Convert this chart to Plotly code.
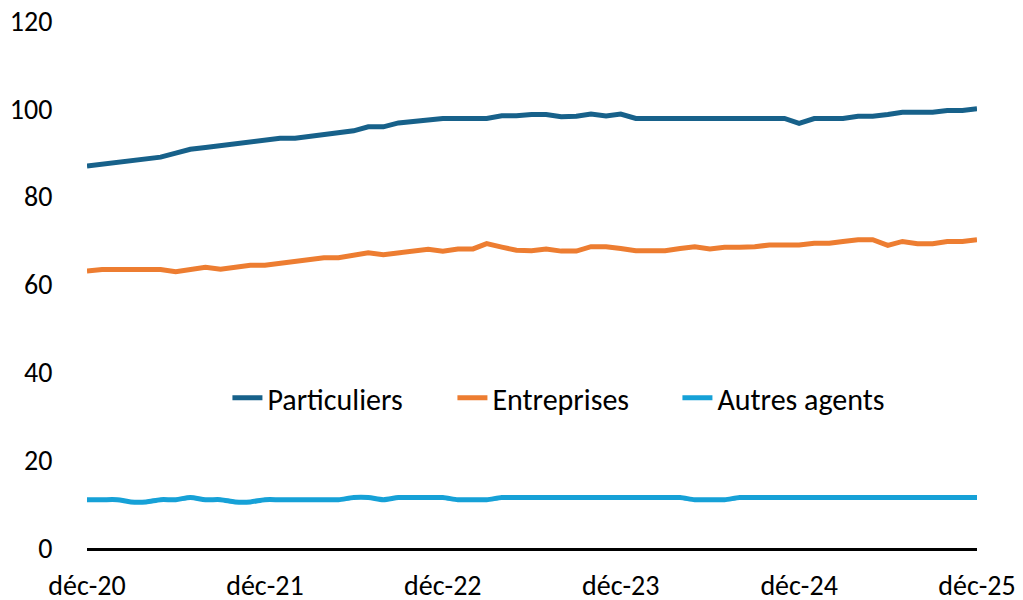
import pandas as pd
import plotly.graph_objects as go

months = pd.date_range("2020-12-01", "2025-12-01", freq="MS")

particuliers = [87.0, 87.4, 87.8, 88.2, 88.6, 89.0, 89.9, 90.8, 91.2, 91.6, 92.0, 92.5, 92.9, 93.3, 93.3,
                93.7, 94.1, 94.6, 95.0, 95.9, 95.9, 96.8, 97.1, 97.5, 97.8, 97.8, 97.8, 97.8, 98.4, 98.4,
                98.7, 98.7, 98.2, 98.3, 98.8, 98.4, 98.8, 97.8, 97.8, 97.8, 97.8, 97.8, 97.8, 97.8, 97.8,
                97.8, 97.8, 97.8, 96.7, 97.8, 97.8, 97.8, 98.3, 98.3, 98.7, 99.2, 99.2, 99.2, 99.6, 99.6,
                100.0]
entreprises = [63.1, 63.4, 63.4, 63.4, 63.4, 63.4, 62.9, 63.4, 63.9, 63.5, 64.0, 64.4, 64.4, 64.8, 65.3,
               65.6, 66.1, 66.1, 66.8, 67.2, 66.8, 67.2, 67.6, 68.0, 67.6, 68.1, 68.1, 69.3, 68.5, 67.8,
               67.7, 68.1, 67.6, 67.6, 68.6, 68.6, 68.2, 67.7, 67.7, 67.7, 68.2, 68.6, 68.1, 68.5, 68.5,
               68.6, 69.0, 69.0, 69.0, 69.4, 69.4, 69.8, 70.2, 70.2, 68.9, 69.8, 69.3, 69.3, 69.8, 69.8,
               70.2]
autres = [11.0, 11.0, 11.0, 10.5, 10.5, 11.0, 11.0, 11.5, 11.0, 11.0, 10.5, 10.5, 11.0, 11.0, 11.0,
          11.0, 11.0, 11.0, 11.5, 11.5, 11.0, 11.5, 11.5, 11.5, 11.5, 11.0, 11.0, 11.0, 11.5, 11.5,
          11.5, 11.5, 11.5, 11.5, 11.5, 11.5, 11.5, 11.5, 11.5, 11.5, 11.5, 11.0, 11.0, 11.0, 11.5,
          11.5, 11.5, 11.5, 11.5, 11.5, 11.5, 11.5, 11.5, 11.5, 11.5, 11.5, 11.5, 11.5, 11.5, 11.5,
          11.5]

tick_dates = ["2020-12-01", "2021-12-01", "2022-12-01", "2023-12-01", "2024-12-01", "2025-12-01"]
tick_labels = ["déc-20", "déc-21", "déc-22", "déc-23", "déc-24", "déc-25"]
y_ticks = [0, 20, 40, 60, 80, 100, 120]

FONT = "Carlito, Calibri, Lato, sans-serif"

fig = go.Figure()
fig.add_trace(go.Scatter(x=months, y=particuliers, name="Particuliers", mode="lines",
                         line=dict(color="#17618A", width=5)))
fig.add_trace(go.Scatter(x=months, y=entreprises, name="Entreprises", mode="lines",
                         line=dict(color="#ED7D31", width=5)))
fig.add_trace(go.Scatter(x=months, y=autres, name="Autres agents", mode="lines",
                         line=dict(color="#16A1D7", width=5, shape="spline", smoothing=0.8)))

# page body has an 8px margin: figure occupies page (8,8)-(1023,600)
fig.update_layout(
    width=1015, height=592,
    margin=dict(l=79, r=46, t=13, b=52),
    plot_bgcolor="white", paper_bgcolor="white",
    font=dict(family=FONT, size=28, color="black"),
    showlegend=True,
    legend=dict(orientation="h", x=0.537, xanchor="center", y=0.285, yanchor="middle",
                bgcolor="rgba(0,0,0,0)", font=dict(size=30), entrywidth=180, traceorder="normal"),
    xaxis=dict(range=[months[0], months[-1]], tickvals=tick_dates, ticktext=tick_labels,
               showgrid=False, zeroline=False, showline=True, linecolor="black", linewidth=3,
               ticks="outside", ticklen=10, tickcolor="rgba(0,0,0,0)", automargin=False,
               ticklabeloverflow="allow"),
    yaxis=dict(range=[0, 120], tickvals=y_ticks, showgrid=False, zeroline=False, showline=False,
               ticks="outside", ticklen=28, tickcolor="rgba(0,0,0,0)", automargin=False,
               ticklabeloverflow="allow"),
)

fig.write_html("out.html")
